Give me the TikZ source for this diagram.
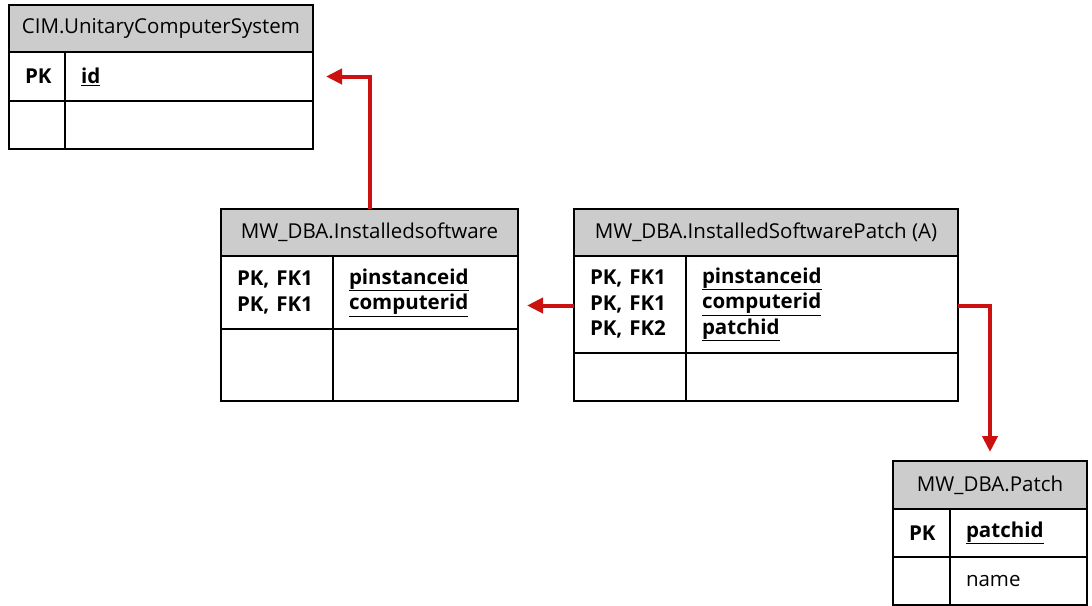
\documentclass[tikz,border=0pt]{standalone}
\usepackage{fontspec}
\setmainfont{Open Sans}
\usepackage{xcolor}
\definecolor{rel_red}{HTML}{CC1111}
\definecolor{head_gray}{HTML}{CCCCCC}
\usetikzlibrary{positioning,calc,arrows.meta}
\tikzset{HEAD/.style={rectangle,draw,line width=2.5pt,fill=head_gray,inner sep=0pt,outer sep=0pt,align=center,anchor=north west}}
\tikzset{CELL/.style={rectangle,draw,line width=2.5pt,inner xsep=16pt,inner ysep=0pt,outer sep=0pt,align=left,anchor=north west}}
\tikzset{ARROW/.style={line width=4pt,rel_red,-{Triangle[length=16pt,width=15pt]}}}

\begin{document}
\begin{tikzpicture}[x=1pt,y=-1pt,font=\fontsize{20.5}{25.5}\selectfont]

\useasboundingbox (0,0) rectangle (1092,605);

% CIM.UnitaryComputerSystem
\node[HEAD, minimum width=304pt, minimum height=47pt] (n_ucs_head) at (9,5) {CIM.UnitaryComputerSystem};
\node[CELL, text width=24pt, minimum height=49pt] (n_ucs_key) at (n_ucs_head.south west) {\textbf{PK}};
\node[CELL, text width=216pt, minimum height=49pt] (n_ucs_id) at (n_ucs_key.north east) {\textbf{\underline{id}}};
\node[CELL, text width=24pt, minimum height=48pt] (n_ucs_key2) at (n_ucs_key.south west) {};
\node[CELL, text width=216pt, minimum height=48pt] (n_ucs_attr) at (n_ucs_key2.north east) {};

% MW_DBA.Installedsoftware
\node[HEAD, minimum width=297pt, minimum height=47pt] (n_is_head) at (221,209) {MW\_DBA.Installedsoftware};
\node[CELL, text width=80pt, minimum height=73pt] (n_is_key) at (n_is_head.south west) {\textbf{PK, FK1}\\\textbf{PK, FK1}};
\node[CELL, text width=153pt, minimum height=73pt] (n_is_pk) at (n_is_key.north east) {\textbf{\underline{pinstanceid}}\\\textbf{\underline{computerid}}};
\node[CELL, text width=80pt, minimum height=72pt] (n_is_key2) at (n_is_key.south west) {};
\node[CELL, text width=153pt, minimum height=72pt] (n_is_attr) at (n_is_key2.north east) {};

% MW_DBA.InstalledSoftwarePatch (A)
\node[HEAD, minimum width=384pt, minimum height=47pt] (n_isp_head) at (574,209) {MW\_DBA.InstalledSoftwarePatch (A)};
\node[CELL, text width=80pt, minimum height=97pt] (n_isp_key) at (n_isp_head.south west) {\textbf{PK, FK1}\\\textbf{PK, FK1}\\\textbf{PK, FK2}};
\node[CELL, text width=240pt, minimum height=97pt] (n_isp_pk) at (n_isp_key.north east) {\textbf{\underline{pinstanceid}}\\\textbf{\underline{computerid}}\\\textbf{\underline{patchid}}};
\node[CELL, text width=80pt, minimum height=48pt] (n_isp_key2) at (n_isp_key.south west) {};
\node[CELL, text width=240pt, minimum height=48pt] (n_isp_attr) at (n_isp_key2.north east) {};

% MW_DBA.Patch
\node[HEAD, minimum width=194pt, minimum height=48pt] (n_patch_head) at (893,461) {MW\_DBA.Patch};
\node[CELL, text width=25pt, minimum height=48pt] (n_patch_key) at (n_patch_head.south west) {\textbf{PK}};
\node[CELL, text width=105pt, minimum height=48pt] (n_patch_id) at (n_patch_key.north east) {\textbf{\underline{patchid}}};
\node[CELL, text width=25pt, minimum height=48pt] (n_patch_key2) at (n_patch_key.south west) {};
\node[CELL, text width=105pt, minimum height=48pt] (n_patch_attr) at (n_patch_key2.north east) {name};

% relations
\draw[ARROW, shorten >=13pt] (n_is_head.north) |- (n_ucs_id.east);
\coordinate (c_isp_link) at ($(n_isp_key.west)+(0,1)$);
\draw[ARROW, shorten >=9pt] (c_isp_link) -- (c_isp_link-|n_is_pk.east);
\coordinate (c_patch_link) at ($(n_isp_pk.east)+(0,1)$);
\draw[ARROW, shorten >=9pt] (c_patch_link) -| (n_patch_head.north);

\end{tikzpicture}
\end{document}
